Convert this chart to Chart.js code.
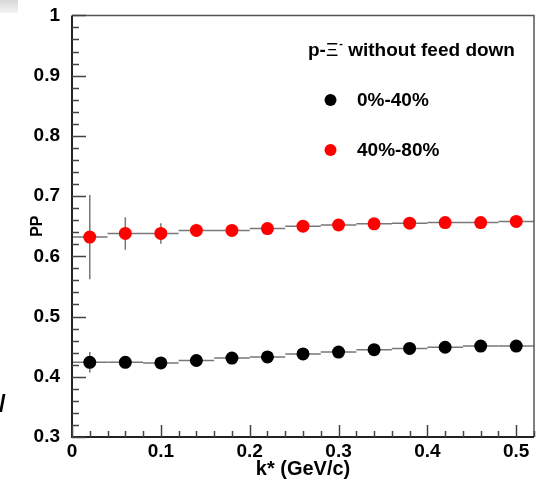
<!DOCTYPE html>
<html>
<head>
<meta charset="utf-8">
<script src="https://cdn.jsdelivr.net/npm/chart.js@4/dist/chart.umd.min.js"></script>
<style>
  html, body { margin: 0; padding: 0; background: #fff; }
</style>
</head>
<body>
<canvas id="ppChart" width="543" height="479"></canvas>
<script>
// k* bin centres (GeV/c), each bin is 0.04 wide
const kStar = [0.02, 0.06, 0.10, 0.14, 0.18, 0.22, 0.26, 0.30, 0.34, 0.38, 0.42, 0.46, 0.50];
const binHalf = 0.02;

// 0%-40%
const ppCentral    = [0.424, 0.424, 0.423, 0.427, 0.431, 0.433, 0.438, 0.441, 0.445, 0.447, 0.449, 0.451, 0.451];
const ppCentralErr = [0.017, 0.008, 0.006, 0.005, 0.004, 0.004, 0.003, 0.003, 0.003, 0.003, 0.003, 0.003, 0.003];
// 40%-80%
const ppPeriph     = [0.632, 0.638, 0.638, 0.643, 0.643, 0.646, 0.650, 0.652, 0.654, 0.655, 0.656, 0.656, 0.658];
const ppPeriphErr  = [0.070, 0.027, 0.017, 0.011, 0.008, 0.007, 0.006, 0.005, 0.005, 0.004, 0.004, 0.004, 0.004];

const seriesLabels = ["0%-40%", "40%-80%"];
const seriesColors = ["#000000", "#ff0000"];

const xTickValues = [0, 0.1, 0.2, 0.3, 0.4, 0.5];
const xTickLabels = ["0", "0.1", "0.2", "0.3", "0.4", "0.5"];
const yTickValues = [0.3, 0.4, 0.5, 0.6, 0.7, 0.8, 0.9, 1];
const yTickLabels = ["0.3", "0.4", "0.5", "0.6", "0.7", "0.8", "0.9", "1"];

const FONT = '"Liberation Sans", Arial, Helvetica, sans-serif';

// ROOT-like frame: error bars, inward ticks, titles, legend
const rootStyle = {
  id: 'rootStyle',
  beforeDatasetsDraw(chart) {
    const ctx = chart.ctx;
    const xs = chart.scales.x, ys = chart.scales.y;
    const errs = [ppCentralErr, ppPeriphErr];
    ctx.save();
    ctx.strokeStyle = '#777';
    ctx.lineWidth = 1.5;
    chart.data.datasets.forEach((ds, d) => {
      ds.data.forEach((p, i) => {
        const py = ys.getPixelForValue(p.y);
        const px = xs.getPixelForValue(p.x);
        ctx.beginPath();
        ctx.moveTo(xs.getPixelForValue(p.x - binHalf), py);
        ctx.lineTo(xs.getPixelForValue(p.x + binHalf), py);
        ctx.moveTo(px, ys.getPixelForValue(p.y - errs[d][i]));
        ctx.lineTo(px, ys.getPixelForValue(p.y + errs[d][i]));
        ctx.stroke();
      });
    });
    ctx.restore();
  },
  afterDraw(chart) {
    const ctx = chart.ctx;
    const a = chart.chartArea;
    const xs = chart.scales.x, ys = chart.scales.y;
    ctx.save();

    // frame
    ctx.strokeStyle = '#555';
    ctx.lineWidth = 1.5;
    ctx.beginPath();
    ctx.moveTo(a.left, a.top); ctx.lineTo(a.right, a.top); ctx.lineTo(a.right, a.bottom);
    ctx.stroke();
    ctx.strokeStyle = '#222';
    ctx.lineWidth = 2;
    ctx.beginPath();
    ctx.moveTo(a.left, a.top); ctx.lineTo(a.left, a.bottom); ctx.lineTo(a.right, a.bottom);
    ctx.stroke();

    // inward ticks
    ctx.lineWidth = 1.5;
    ctx.strokeStyle = '#444';
    ctx.beginPath();
    for (let i = 0; i <= 35; i++) {
      const v = 0.3 + i * 0.02;
      const py = Math.round(ys.getPixelForValue(v)) + 0.5;
      const len = (i % 5 === 0) ? 14 : 7;
      ctx.moveTo(a.left, py); ctx.lineTo(a.left + len, py);
    }
    for (let i = 0; i <= 26; i++) {
      const v = i * 0.02;
      const px = Math.round(xs.getPixelForValue(v)) + 0.5;
      const len = (i % 5 === 0) ? 12 : 6;
      ctx.moveTo(px, a.bottom); ctx.lineTo(px, a.bottom - len);
    }
    ctx.stroke();

    // axis titles
    ctx.fillStyle = '#000';
    ctx.font = 'bold 20px ' + FONT;
    ctx.textAlign = 'center';
    ctx.textBaseline = 'alphabetic';
    ctx.fillText('k* (GeV/c)', (a.left + a.right) / 2, 475);
    ctx.save();
    ctx.translate(42, (a.top + a.bottom) / 2);
    ctx.rotate(-Math.PI / 2);
    ctx.font = 'bold 16px ' + FONT;
    ctx.fillText('PP', 0, 0);
    ctx.restore();

    // legend
    ctx.textAlign = 'left';
    ctx.font = 'bold 19px ' + FONT;
    let tx = 308;
    ctx.fillText('p-', tx, 56); tx += ctx.measureText('p-').width;
    ctx.font = '19px ' + FONT;
    ctx.fillText('\u039E', tx, 56); tx += ctx.measureText('\u039E').width;
    ctx.font = 'bold 11px ' + FONT;
    ctx.fillText('-', tx + 1, 47); tx += ctx.measureText('-').width + 1;
    ctx.font = 'bold 19px ' + FONT;
    ctx.fillText(' without feed down', tx, 56);

    ctx.font = 'bold 19px ' + FONT;
    seriesLabels.forEach((lab, i) => {
      const cy = 100 + i * 50;
      ctx.fillStyle = seriesColors[i];
      ctx.beginPath();
      ctx.arc(330.5, cy, 6, 0, Math.PI * 2);
      ctx.fill();
      ctx.fillStyle = '#000';
      ctx.textBaseline = 'middle';
      ctx.fillText(lab, 357, cy + 1);
    });

    // stray marks at the edge of the original figure
    const g = ctx.createLinearGradient(0, 0, 0, 13);
    g.addColorStop(0, '#d8d8d8'); g.addColorStop(1, '#f4f4f4');
    ctx.fillStyle = g;
    ctx.fillRect(0, 0, 18, 13);
    ctx.fillStyle = '#000';
    ctx.textBaseline = 'alphabetic';
    ctx.font = 'bold 24px ' + FONT;
    ctx.fillText('/', -1, 412);

    ctx.restore();
  }
};

new Chart(document.getElementById('ppChart'), {
  type: 'scatter',
  data: {
    datasets: [
      {
        label: seriesLabels[0],
        data: kStar.map((k, i) => ({ x: k, y: ppCentral[i] })),
        backgroundColor: seriesColors[0],
        borderColor: seriesColors[0],
        pointRadius: 6.5,
        pointHoverRadius: 6.5,
        borderWidth: 0
      },
      {
        label: seriesLabels[1],
        data: kStar.map((k, i) => ({ x: k, y: ppPeriph[i] })),
        backgroundColor: seriesColors[1],
        borderColor: seriesColors[1],
        pointRadius: 6.5,
        pointHoverRadius: 6.5,
        borderWidth: 0
      }
    ]
  },
  options: {
    responsive: false,
    animation: false,
    layout: { padding: { top: 15, right: 9, left: 0, bottom: 0 } },
    plugins: {
      legend: { display: false },
      tooltip: { enabled: false }
    },
    scales: {
      x: {
        type: 'linear',
        min: 0,
        max: 0.52,
        grid: { display: false },
        border: { display: false },
        afterFit(scale) { scale.height = 42; },
        afterBuildTicks(scale) { scale.ticks = xTickValues.map(v => ({ value: v })); },
        ticks: {
          autoSkip: false,
          maxRotation: 0,
          padding: -5,
          color: '#000',
          font: { family: FONT, size: 19, weight: 'bold' },
          callback: (v, i) => xTickLabels[i]
        }
      },
      y: {
        type: 'linear',
        min: 0.3,
        max: 1,
        grid: { display: false },
        border: { display: false },
        afterFit(scale) { scale.width = 72; },
        afterBuildTicks(scale) { scale.ticks = yTickValues.map(v => ({ value: v })); },
        ticks: {
          autoSkip: false,
          padding: 4,
          color: '#000',
          font: { family: FONT, size: 19, weight: 'bold' },
          callback: (v, i) => yTickLabels[i]
        }
      }
    }
  },
  plugins: [rootStyle]
});
</script>
</body>
</html>
